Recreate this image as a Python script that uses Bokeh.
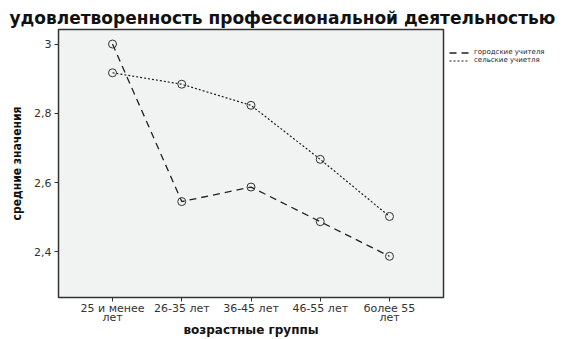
from bokeh.plotting import figure
from bokeh.models import FixedTicker, Legend, LegendItem, Range1d, ColumnDataSource
from bokeh.embed import file_html
from bokeh.resources import INLINE

categories = ["25 и менее\nлет", "26-35 лет", "36-45 лет", "46-55 лет", "более 55\nлет"]
urban = [3.0, 2.545, 2.587, 2.487, 2.387]
rural = [2.917, 2.884, 2.823, 2.667, 2.502]
series_names = ["городские учителя", "сельские учиетля"]
y_ticks = [2.4, 2.6, 2.8, 3.0]
y_tick_labels = ["2,4", "2,6", "2,8", "3"]

xs = list(range(len(categories)))

p = figure(frame_width=385, frame_height=268, output_backend="svg", toolbar_location=None,
           x_range=Range1d(-0.78, len(categories) - 1 + 0.78),
           y_range=Range1d(2.268, 3.042),
           title="удовлетворенность профессиональной деятельностью")
p.min_border_left = 58
p.min_border_right = 0
p.min_border_bottom = 42
p.min_border_top = 29
p.background_fill_color = "#F1F2F2"
p.border_fill_color = "white"
p.outline_line_color = "#333333"
p.outline_line_width = 1.5
p.grid.visible = False

p.title.text_font = "DejaVu Sans"
p.title.text_font_style = "bold"
p.title.text_font_size = "17px"
p.title.text_color = "#111111"
p.title.align = "left"
p.title.offset = -49
p.title.standoff = 4

src_u = ColumnDataSource(dict(x=xs, y=urban))
src_r = ColumnDataSource(dict(x=xs, y=rural))

l1 = p.line("x", "y", source=src_u, line_color="#222222", line_width=1.3, line_dash="7 5")
l2 = p.line("x", "y", source=src_r, line_color="#222222", line_width=1.2, line_dash="2 2")
p.scatter("x", "y", source=src_u, marker="circle", size=8, fill_color=None, line_color="#333333", line_width=1)
p.scatter("x", "y", source=src_r, marker="circle", size=8, fill_color=None, line_color="#333333", line_width=1)

p.xaxis.ticker = FixedTicker(ticks=xs)
p.xaxis.major_label_overrides = {i: c for i, c in zip(xs, categories)}
p.yaxis.ticker = FixedTicker(ticks=y_ticks)
p.yaxis.major_label_overrides = {t: l for t, l in zip(y_ticks, y_tick_labels)}

for ax in (p.xaxis[0], p.yaxis[0]):
    ax.axis_line_color = None
    ax.major_tick_out = 4
    ax.major_tick_in = 0
    ax.minor_tick_line_color = None
    ax.major_tick_line_color = "#333333"
    ax.major_label_text_font = "DejaVu Sans"
    ax.major_label_text_font_size = "11px"
    ax.major_label_text_color = "#333333"
    ax.axis_label_text_font_style = "bold"
    ax.axis_label_text_color = "#111111"

p.xaxis.major_label_standoff = 0
p.xaxis.major_label_text_line_height = 0.75
p.xaxis.axis_label = "возрастные группы"
p.xaxis.axis_label_text_font = "DejaVu Sans"
p.xaxis.axis_label_text_font_size = "12px"
p.xaxis.axis_label_standoff = -4
p.yaxis.axis_label = "средние значения"
p.yaxis.axis_label_text_font = "DejaVu Sans Condensed, Liberation Sans Narrow, sans-serif"
p.yaxis.axis_label_text_font_size = "12px"
p.yaxis.axis_label_standoff = 7
p.yaxis.major_label_standoff = 3

legend = Legend(items=[LegendItem(label=series_names[0], renderers=[l1]),
                       LegendItem(label=series_names[1], renderers=[l2])],
                location="top_left", orientation="vertical")
legend.title = " "
legend.title_text_font_size = "10px"
legend.title_standoff = 2
legend.label_text_font = "DejaVu Sans"
legend.label_text_font_size = "7px"
legend.label_text_color = "#222222"
legend.glyph_width = 20
legend.glyph_height = 5
legend.label_height = 5
legend.label_standoff = 5
legend.spacing = 0
legend.padding = 0
legend.margin = 6
legend.border_line_color = None
legend.background_fill_alpha = 0
p.add_layout(legend, "right")

open("out.html", "w").write(file_html(p, INLINE))
